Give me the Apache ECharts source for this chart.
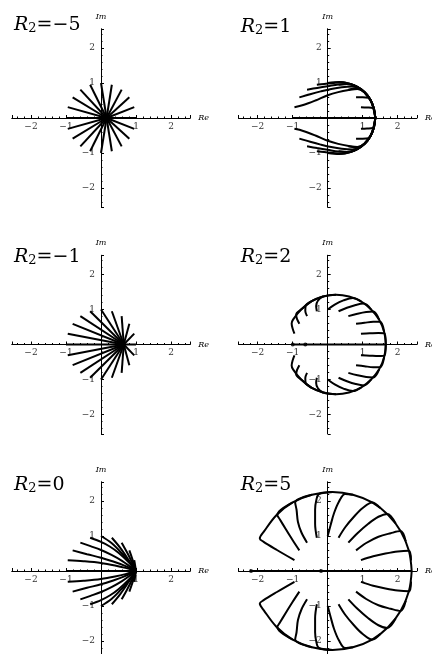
<!DOCTYPE html>
<html>
<head>
<meta charset="utf-8">
<script src="https://cdn.jsdelivr.net/npm/echarts@6/dist/echarts.min.js"></script>
<style>
  html, body { margin: 0; padding: 0; background: #fff; }
  #chart { width: 432px; height: 654px; }
</style>
</head>
<body>
<div id="chart"></div>
<script>
// panel labels (R2 values) and tick labels
const panelR2 = ['−5', '1', '−1', '2', '0', '5'];
const tickValues = [-2, -1, 1, 2];

// R2 = -5 : straight rays into the point near 0.16
const raysM5 = [
  [[-1, 0], [0.16, 0]], [[1, 0], [0.16, 0]],
  [[0.95, 0.31], [0.16, 0]], [[0.81, 0.59], [0.16, 0]], [[0.59, 0.81], [0.16, 0]], [[0.31, 0.95], [0.16, 0]],
  [[0, 1], [0.16, 0]], [[-0.31, 0.95], [0.16, 0]], [[-0.59, 0.81], [0.16, 0]], [[-0.81, 0.59], [0.16, 0]],
  [[-0.95, 0.31], [0.16, 0]],
  [[0.95, -0.31], [0.16, 0]], [[0.81, -0.59], [0.16, 0]], [[0.59, -0.81], [0.16, 0]], [[0.31, -0.95], [0.16, 0]],
  [[0, -1], [0.16, 0]], [[-0.31, -0.95], [0.16, 0]], [[-0.59, -0.81], [0.16, 0]], [[-0.81, -0.59], [0.16, 0]],
  [[-0.95, -0.31], [0.16, 0]]
];

// R2 = -1 : straight rays into the point near 0.65
const raysM1 = [
  [[-1, 0], [0.65, 0]], [[1, 0], [0.65, 0]],
  [[0.95, 0.31], [0.65, 0]], [[0.81, 0.59], [0.65, 0]], [[0.59, 0.81], [0.65, 0]], [[0.31, 0.95], [0.65, 0]],
  [[0, 1], [0.65, 0]], [[-0.31, 0.95], [0.65, 0]], [[-0.59, 0.81], [0.65, 0]], [[-0.81, 0.59], [0.65, 0]],
  [[-0.95, 0.31], [0.65, 0]],
  [[0.95, -0.31], [0.65, 0]], [[0.81, -0.59], [0.65, 0]], [[0.59, -0.81], [0.65, 0]], [[0.31, -0.95], [0.65, 0]],
  [[0, -1], [0.65, 0]], [[-0.31, -0.95], [0.65, 0]], [[-0.59, -0.81], [0.65, 0]], [[-0.81, -0.59], [0.65, 0]],
  [[-0.95, -0.31], [0.65, 0]]
];

// R2 = 0 : curves bending into 1
const curves0 = [
  [[-1, 0], [1, 0]],
  [[-0.95, 0.31], [-0.5, 0.28], [0, 0.23], [0.4, 0.16], [0.7, 0.09], [1, 0]],
  [[-0.81, 0.59], [-0.4, 0.48], [0, 0.38], [0.35, 0.27], [0.65, 0.16], [1, 0]],
  [[-0.59, 0.81], [-0.3, 0.71], [0, 0.6], [0.3, 0.46], [0.6, 0.29], [1, 0]],
  [[-0.31, 0.95], [0, 0.83], [0.25, 0.7], [0.5, 0.52], [0.8, 0.24], [1, 0]],
  [[0, 1], [0.3, 0.8], [0.6, 0.5], [0.85, 0.2], [1, 0]],
  [[0.31, 0.95], [0.55, 0.66], [0.8, 0.3], [1, 0]],
  [[0.59, 0.81], [0.75, 0.52], [0.9, 0.22], [1, 0]],
  [[0.81, 0.59], [0.9, 0.33], [1, 0]],
  [[0.95, 0.31], [1, 0]],
  [[-0.95, -0.31], [-0.5, -0.28], [0, -0.23], [0.4, -0.16], [0.7, -0.09], [1, 0]],
  [[-0.81, -0.59], [-0.4, -0.48], [0, -0.38], [0.35, -0.27], [0.65, -0.16], [1, 0]],
  [[-0.59, -0.81], [-0.3, -0.71], [0, -0.6], [0.3, -0.46], [0.6, -0.29], [1, 0]],
  [[-0.31, -0.95], [0, -0.83], [0.25, -0.7], [0.5, -0.52], [0.8, -0.24], [1, 0]],
  [[0, -1], [0.3, -0.8], [0.6, -0.5], [0.85, -0.2], [1, 0]],
  [[0.31, -0.95], [0.55, -0.66], [0.8, -0.3], [1, 0]],
  [[0.59, -0.81], [0.75, -0.52], [0.9, -0.22], [1, 0]],
  [[0.81, -0.59], [0.9, -0.33], [1, 0]],
  [[0.95, -0.31], [1, 0]]
];

// R2 = 1 : curves running onto the small circle
const curves1 = [
  [[-1, 0], [1.36, 0]],
  [[-0.95, 0.31], [-0.7, 0.37], [-0.35, 0.5], [0, 0.65], [0.3, 0.74], [0.6, 0.8], [0.85, 0.83], [1.05, 0.74], [1.2, 0.55], [1.3, 0.3], [1.36, 0]],
  [[-0.81, 0.59], [-0.5, 0.68], [-0.2, 0.76], [0.1, 0.83], [0.4, 0.88], [0.7, 0.9], [0.9, 0.85], [1.06, 0.73], [1.22, 0.52], [1.32, 0.27], [1.36, 0]],
  [[-0.59, 0.81], [-0.3, 0.86], [0, 0.91], [0.3, 0.96], [0.55, 0.97], [0.8, 0.91], [1.06, 0.73], [1.22, 0.52], [1.32, 0.27], [1.36, 0]],
  [[-0.31, 0.95], [-0.1, 0.97], [0.15, 1.0], [0.4, 1.02], [0.65, 0.97], [0.85, 0.89], [1.06, 0.73], [1.22, 0.52], [1.32, 0.27], [1.36, 0]],
  [[0, 1], [0.33, 1.03], [0.6, 0.99], [0.85, 0.89], [1.06, 0.73], [1.22, 0.52], [1.32, 0.27], [1.36, 0]],
  [[0.31, 0.95], [0.55, 0.97], [0.8, 0.91], [1.06, 0.73], [1.22, 0.52]],
  [[0.59, 0.81], [0.8, 0.84], [0.97, 0.8], [1.1, 0.67], [1.22, 0.52]],
  [[0.81, 0.59], [1.0, 0.59], [1.16, 0.58], [1.25, 0.45], [1.32, 0.27]],
  [[0.95, 0.31], [1.12, 0.3], [1.29, 0.28], [1.34, 0.14], [1.36, 0]],
  [[-0.95, -0.31], [-0.7, -0.37], [-0.35, -0.5], [0, -0.65], [0.3, -0.74], [0.6, -0.8], [0.85, -0.83], [1.05, -0.74], [1.2, -0.55], [1.3, -0.3], [1.36, 0]],
  [[-0.81, -0.59], [-0.5, -0.68], [-0.2, -0.76], [0.1, -0.83], [0.4, -0.88], [0.7, -0.9], [0.9, -0.85], [1.06, -0.73], [1.22, -0.52], [1.32, -0.27], [1.36, 0]],
  [[-0.59, -0.81], [-0.3, -0.86], [0, -0.91], [0.3, -0.96], [0.55, -0.97], [0.8, -0.91], [1.06, -0.73], [1.22, -0.52], [1.32, -0.27], [1.36, 0]],
  [[-0.31, -0.95], [-0.1, -0.97], [0.15, -1.0], [0.4, -1.02], [0.65, -0.97], [0.85, -0.89], [1.06, -0.73], [1.22, -0.52], [1.32, -0.27], [1.36, 0]],
  [[0, -1], [0.33, -1.03], [0.6, -0.99], [0.85, -0.89], [1.06, -0.73], [1.22, -0.52], [1.32, -0.27], [1.36, 0]],
  [[0.31, -0.95], [0.55, -0.97], [0.8, -0.91], [1.06, -0.73], [1.22, -0.52]],
  [[0.59, -0.81], [0.8, -0.84], [0.97, -0.8], [1.1, -0.67], [1.22, -0.52]],
  [[0.81, -0.59], [1.0, -0.59], [1.16, -0.58], [1.25, -0.45], [1.32, -0.27]],
  [[0.95, -0.31], [1.12, -0.3], [1.29, -0.28], [1.34, -0.14], [1.36, 0]]
];

// R2 = 2 : hooks onto the middle circle
const curves2 = [
  [[-1, 0], [1.66, 0]],
  [[-0.95, 0.31], [-1.0, 0.45], [-1.03, 0.6], [-0.99, 0.71], [-0.76, 1.0], [-0.47, 1.23], [-0.13, 1.37], [0.24, 1.42], [0.61, 1.37], [0.95, 1.23], [1.24, 1.0], [1.47, 0.71], [1.61, 0.37], [1.66, 0]],
  [[-0.81, 0.59], [-0.88, 0.74], [-0.9, 0.86], [-0.76, 1.0], [-0.47, 1.23]],
  [[-0.59, 0.81], [-0.64, 0.96], [-0.63, 1.1], [-0.47, 1.23], [-0.13, 1.37]],
  [[-0.31, 0.95], [-0.33, 1.1], [-0.28, 1.25], [-0.13, 1.37], [0.24, 1.42]],
  [[0, 1], [0.2, 1.14], [0.45, 1.26], [0.72, 1.33], [0.95, 1.23]],
  [[0.31, 0.95], [0.55, 1.05], [0.8, 1.13], [1.03, 1.17], [1.24, 1.0]],
  [[0.59, 0.81], [0.85, 0.88], [1.1, 0.93], [1.3, 0.94], [1.47, 0.71]],
  [[0.81, 0.59], [1.05, 0.62], [1.3, 0.65], [1.5, 0.65], [1.61, 0.37]],
  [[0.95, 0.31], [1.2, 0.32], [1.45, 0.33], [1.62, 0.32], [1.66, 0]],
  [[-0.95, -0.31], [-1.0, -0.45], [-1.03, -0.6], [-0.99, -0.71], [-0.76, -1.0], [-0.47, -1.23], [-0.13, -1.37], [0.24, -1.42], [0.61, -1.37], [0.95, -1.23], [1.24, -1.0], [1.47, -0.71], [1.61, -0.37], [1.66, 0]],
  [[-0.81, -0.59], [-0.88, -0.74], [-0.9, -0.86], [-0.76, -1.0], [-0.47, -1.23]],
  [[-0.59, -0.81], [-0.64, -0.96], [-0.63, -1.1], [-0.47, -1.23], [-0.13, -1.37]],
  [[-0.31, -0.95], [-0.33, -1.1], [-0.28, -1.25], [-0.13, -1.37], [0.24, -1.42]],
  [[0, -1], [0.2, -1.14], [0.45, -1.26], [0.72, -1.33], [0.95, -1.23]],
  [[0.31, -0.95], [0.55, -1.05], [0.8, -1.13], [1.03, -1.17], [1.24, -1.0]],
  [[0.59, -0.81], [0.85, -0.88], [1.1, -0.93], [1.3, -0.94], [1.47, -0.71]],
  [[0.81, -0.59], [1.05, -0.62], [1.3, -0.65], [1.5, -0.65], [1.61, -0.37]],
  [[0.95, -0.31], [1.2, -0.32], [1.45, -0.33], [1.62, -0.32], [1.66, 0]]
];
const dots2 = [[-1, 0], [-0.64, 0]];

// R2 = 5 : curves out to the big circle
const curves5 = [
  [[-2.19, 0], [2.4, 0]],
  [[-0.95, 0.31], [-1.45, 0.6], [-1.84, 0.84], [-1.94, 0.93], [-1.82, 1.13], [-1.46, 1.6], [-1.0, 1.96], [-0.45, 2.18], [0.14, 2.26], [0.72, 2.18], [1.27, 1.96], [1.73, 1.6], [2.09, 1.13], [2.32, 0.58], [2.4, 0]],
  [[-0.81, 0.59], [-1.0, 0.88], [-1.2, 1.2], [-1.37, 1.48], [-1.44, 1.6], [-1.0, 1.96]],
  [[-0.59, 0.81], [-0.75, 1.1], [-0.85, 1.4], [-0.89, 1.75], [-0.93, 1.96], [-0.45, 2.18]],
  [[-0.31, 0.95], [-0.36, 1.35], [-0.36, 1.75], [-0.32, 2.05], [-0.25, 2.2], [0.14, 2.26]],
  [[0, 1], [0.08, 1.3], [0.18, 1.65], [0.32, 1.98], [0.5, 2.2], [0.72, 2.18]],
  [[0.31, 0.95], [0.5, 1.25], [0.75, 1.55], [1.0, 1.8], [1.27, 1.96], [1.5, 1.8]],
  [[0.59, 0.81], [0.85, 1.08], [1.16, 1.35], [1.45, 1.55], [1.7, 1.63], [1.94, 1.36]],
  [[0.81, 0.59], [1.1, 0.8], [1.45, 0.98], [1.8, 1.08], [2.08, 1.14], [2.23, 0.85]],
  [[0.95, 0.31], [1.3, 0.42], [1.65, 0.5], [2.0, 0.56], [2.32, 0.58], [2.38, 0.3]],
  [[-0.95, -0.31], [-1.45, -0.6], [-1.84, -0.84], [-1.94, -0.93], [-1.82, -1.13], [-1.46, -1.6], [-1.0, -1.96], [-0.45, -2.18], [0.14, -2.26], [0.72, -2.18], [1.27, -1.96], [1.73, -1.6], [2.09, -1.13], [2.32, -0.58], [2.4, 0]],
  [[-0.81, -0.59], [-1.0, -0.88], [-1.2, -1.2], [-1.37, -1.48], [-1.44, -1.6], [-1.0, -1.96]],
  [[-0.59, -0.81], [-0.75, -1.1], [-0.85, -1.4], [-0.89, -1.75], [-0.93, -1.96], [-0.45, -2.18]],
  [[-0.31, -0.95], [-0.36, -1.35], [-0.36, -1.75], [-0.32, -2.05], [-0.25, -2.2], [0.14, -2.26]],
  [[0, -1], [0.08, -1.3], [0.18, -1.65], [0.32, -1.98], [0.5, -2.2], [0.72, -2.18]],
  [[0.31, -0.95], [0.5, -1.25], [0.75, -1.55], [1.0, -1.8], [1.27, -1.96], [1.5, -1.8]],
  [[0.59, -0.81], [0.85, -1.08], [1.16, -1.35], [1.45, -1.55], [1.7, -1.63], [1.94, -1.36]],
  [[0.81, -0.59], [1.1, -0.8], [1.45, -0.98], [1.8, -1.08], [2.08, -1.14], [2.23, -0.85]],
  [[0.95, -0.31], [1.3, -0.42], [1.65, -0.5], [2.0, -0.56], [2.32, -0.58], [2.38, -0.3]]
];
const dots5 = [[-2.19, 0], [-0.19, 0]];

// layout: panel origins in pixels, 35px per unit
const origins = [[101, 118], [327.7, 118], [101, 344.5], [327.7, 344.5], [101, 571], [327.7, 571]];
const titleTops = [11, 13, 243, 243, 471, 471];
const half = 2.55 * 35;
const panelCurves = [raysM5, curves1, raysM1, curves2, curves0, curves5];
const panelDots = [[], [], [], dots2, [], dots5];

const serif = 'DejaVu Serif';
const tickFmt = v => tickValues.includes(v) ? String(v).replace('-', '−') : '';

// axes are pushed into the middle of each grid with offset, so they cross at (0,0)
function axisOpts(i, name, pos, gap, margin) {
  return {
    gridIndex: i, type: 'value', position: pos, offset: -half,
    min: -2.55, max: 2.55, splitNumber: 5,
    name: name, nameLocation: 'end', nameGap: gap,
    nameTextStyle: { fontFamily: serif, fontStyle: 'italic', fontSize: 8, color: '#000' },
    axisLine: { onZero: false, lineStyle: { color: '#000', width: 1 } },
    axisTick: { inside: true, length: 3, lineStyle: { color: '#000', width: 1 } },
    minorTick: { show: true, splitNumber: 5, length: 1.5, lineStyle: { color: '#000', width: 1 } },
    splitLine: { show: false },
    axisLabel: { formatter: tickFmt, margin: margin, fontFamily: serif, fontSize: 9, color: '#333' }
  };
}

const series = [];
panelCurves.forEach((curves, i) => {
  curves.forEach(pts => {
    series.push({
      type: 'line', xAxisIndex: i, yAxisIndex: i, data: pts,
      showSymbol: false, smooth: 0.35, silent: true,
      lineStyle: { color: '#000', width: 2 }
    });
  });
  if (panelDots[i].length) {
    series.push({
      type: 'scatter', xAxisIndex: i, yAxisIndex: i, data: panelDots[i],
      symbolSize: 4, itemStyle: { color: '#000' }, silent: true
    });
  }
});

const chart = echarts.init(document.getElementById('chart'), null, { renderer: 'canvas' });
chart.setOption({
  animation: false,
  backgroundColor: '#fff',
  title: panelR2.map((v, i) => ({
    text: '{r|R}{s|2}{t|=' + v + '}',
    left: origins[i][0] - 87,
    top: titleTops[i],
    padding: 0,
    textStyle: {
      fontWeight: 'normal',
      rich: {
        r: { fontFamily: serif, fontStyle: 'italic', fontWeight: 'normal', fontSize: 19, lineHeight: 24, verticalAlign: 'bottom', color: '#000' },
        s: { fontFamily: serif, fontWeight: 'normal', fontSize: 13, lineHeight: 10, verticalAlign: 'bottom', color: '#000' },
        t: { fontFamily: serif, fontWeight: 'normal', fontSize: 19, lineHeight: 24, verticalAlign: 'bottom', color: '#000' }
      }
    }
  })),
  grid: origins.map(([ox, oy]) => ({
    left: ox - half, top: oy - half, width: 2 * half, height: 2 * half,
    outerBoundsMode: 'none'
  })),
  xAxis: origins.map((o, i) => axisOpts(i, 'Re', 'bottom', 8, 4)),
  yAxis: origins.map((o, i) => axisOpts(i, 'Im', 'left', 8, 6)),
  series: series
});
</script>
</body>
</html>
